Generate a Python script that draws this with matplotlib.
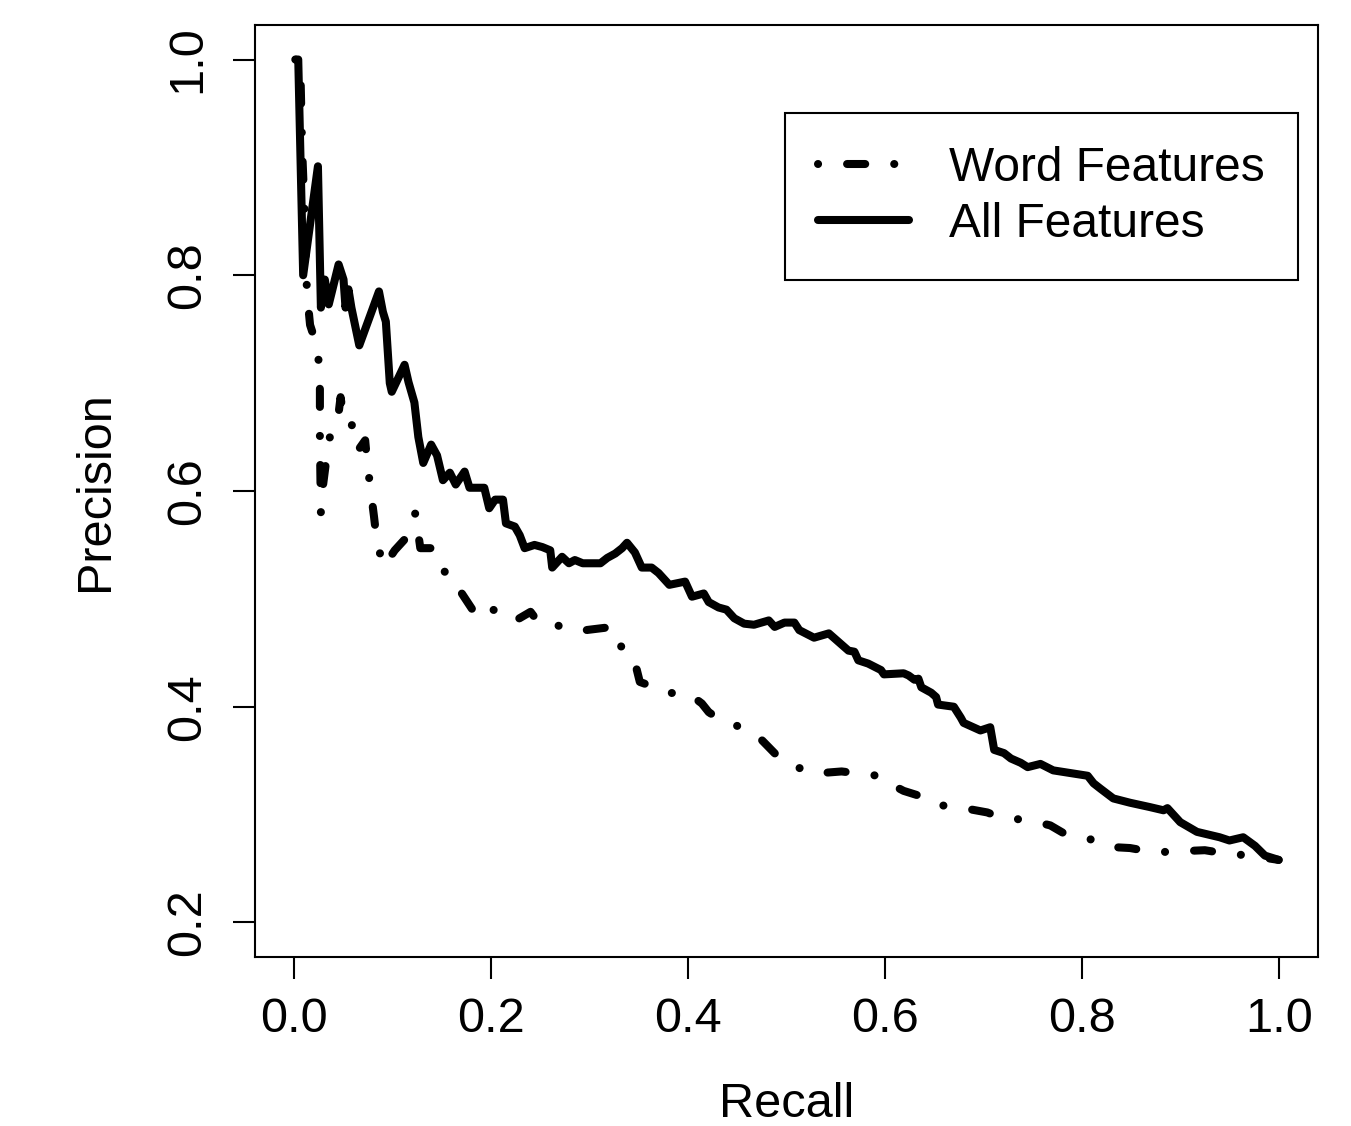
import numpy as np
import matplotlib
matplotlib.use('Agg')
import matplotlib.pyplot as plt

plt.rcParams['font.family'] = ['Liberation Sans', 'DejaVu Sans']

# 全特征 (All Features) 的 recall / precision
all_recall = [0.002, 0.004, 0.009, 0.024, 0.027, 0.031, 0.035, 0.045, 0.050, 0.052,
              0.055, 0.058, 0.066, 0.086, 0.090, 0.093, 0.097, 0.099, 0.112, 0.116,
              0.122, 0.126, 0.131, 0.139, 0.145, 0.151, 0.158, 0.164, 0.173, 0.178,
              0.193, 0.198, 0.204, 0.212, 0.215, 0.224, 0.229, 0.234, 0.244, 0.252,
              0.260, 0.262, 0.272, 0.279, 0.285, 0.293, 0.311, 0.318, 0.326, 0.333,
              0.338, 0.346, 0.353, 0.363, 0.370, 0.381, 0.397, 0.404, 0.416, 0.421,
              0.431, 0.439, 0.447, 0.457, 0.467, 0.482, 0.488, 0.498, 0.508, 0.513,
              0.528, 0.543, 0.553, 0.563, 0.569, 0.573, 0.583, 0.596, 0.599, 0.619,
              0.624, 0.630, 0.634, 0.637, 0.647, 0.652, 0.654, 0.670, 0.677, 0.680,
              0.697, 0.707, 0.711, 0.721, 0.728, 0.738, 0.745, 0.758, 0.771, 0.785,
              0.806, 0.812, 0.819, 0.832, 0.849, 0.869, 0.883, 0.887, 0.900, 0.917,
              0.940, 0.950, 0.964, 0.976, 0.986, 1.000]
all_prec = [1.000, 1.000, 0.800, 0.901, 0.770, 0.796, 0.773, 0.810, 0.796, 0.770,
            0.787, 0.770, 0.735, 0.785, 0.766, 0.757, 0.700, 0.692, 0.717, 0.701,
            0.682, 0.650, 0.626, 0.643, 0.633, 0.610, 0.617, 0.606, 0.618, 0.603,
            0.603, 0.584, 0.592, 0.592, 0.570, 0.567, 0.559, 0.547, 0.550, 0.548,
            0.545, 0.529, 0.539, 0.533, 0.536, 0.533, 0.533, 0.538, 0.542, 0.547,
            0.552, 0.543, 0.529, 0.529, 0.524, 0.513, 0.516, 0.502, 0.505, 0.497,
            0.492, 0.490, 0.482, 0.477, 0.476, 0.480, 0.474, 0.478, 0.478, 0.471,
            0.464, 0.468, 0.460, 0.452, 0.451, 0.443, 0.440, 0.434, 0.430, 0.431,
            0.429, 0.425, 0.426, 0.418, 0.413, 0.409, 0.402, 0.400, 0.390, 0.385,
            0.378, 0.381, 0.360, 0.357, 0.352, 0.348, 0.344, 0.347, 0.341, 0.339,
            0.336, 0.329, 0.324, 0.315, 0.311, 0.307, 0.304, 0.306, 0.293, 0.284,
            0.279, 0.276, 0.279, 0.271, 0.262, 0.258]

# 词特征 (Word Features)
word_recall = [0.001, 0.006, 0.008, 0.010, 0.012, 0.014, 0.016, 0.022, 0.025, 0.026,
               0.026, 0.027, 0.029, 0.035, 0.045, 0.047, 0.050, 0.058, 0.060, 0.065,
               0.072, 0.074, 0.077, 0.081, 0.084, 0.088, 0.091, 0.102, 0.113, 0.120,
               0.123, 0.128, 0.140, 0.148, 0.156, 0.168, 0.181, 0.198, 0.201, 0.212,
               0.225, 0.240, 0.249, 0.269, 0.290, 0.296, 0.323, 0.333, 0.345, 0.351,
               0.366, 0.377, 0.401, 0.414, 0.421, 0.434, 0.454, 0.475, 0.490, 0.505,
               0.528, 0.556, 0.593, 0.598, 0.619, 0.640, 0.654, 0.680, 0.704, 0.718,
               0.745, 0.768, 0.783, 0.809, 0.829, 0.849, 0.874, 0.925, 0.945, 0.971,
               1.000]
word_prec = [1.000, 0.998, 0.916, 0.870, 0.799, 0.773, 0.754, 0.737, 0.719, 0.694,
             0.647, 0.580, 0.604, 0.647, 0.672, 0.687, 0.668, 0.666, 0.645, 0.638,
             0.647, 0.627, 0.605, 0.576, 0.552, 0.539, 0.530, 0.545, 0.556, 0.567,
             0.580, 0.547, 0.547, 0.539, 0.516, 0.508, 0.490, 0.497, 0.490, 0.488,
             0.480, 0.488, 0.477, 0.475, 0.474, 0.471, 0.474, 0.454, 0.445, 0.423,
             0.418, 0.413, 0.412, 0.403, 0.395, 0.387, 0.381, 0.369, 0.355, 0.346,
             0.338, 0.340, 0.336, 0.332, 0.322, 0.316, 0.309, 0.306, 0.302, 0.297,
             0.295, 0.290, 0.282, 0.277, 0.270, 0.269, 0.265, 0.267, 0.264, 0.262,
             0.258]

xticks = [0.0, 0.2, 0.4, 0.6, 0.8, 1.0]
yticks = [0.2, 0.4, 0.6, 0.8, 1.0]

fig = plt.figure(figsize=(13.51, 11.26), dpi=100)
ax = fig.add_axes([0.1887, 0.1501, 0.7869, 0.8277])

lw = 5.8
# dot-dash 线型
ax.plot(word_recall, word_prec, color='black', lw=lw, dashes=(0.01, 3.6, 2.25, 3.6),
        dash_capstyle='round', solid_capstyle='round', solid_joinstyle='round',
        label='Word Features')
ax.plot(all_recall, all_prec, color='black', lw=lw, solid_capstyle='round',
        solid_joinstyle='round', label='All Features')

ax.set_xlim(-0.04, 1.04)
ax.set_ylim(0.168, 1.032)
ax.set_xticks(xticks)
ax.set_yticks(yticks)
ax.set_xticklabels(['%.1f' % t for t in xticks])
ax.set_yticklabels(['%.1f' % t for t in yticks], rotation=90, va='center')

for s in ax.spines.values():
    s.set_linewidth(1.5)
ax.tick_params(axis='both', length=15.5, width=1.5, labelsize=35)
ax.tick_params(axis='x', pad=13)
ax.tick_params(axis='y', pad=17)

ax.set_xlabel('Recall', fontsize=35)
ax.set_ylabel('Precision', fontsize=35)
ax.xaxis.set_label_coords(0.5, -0.134)
ax.yaxis.set_label_coords(-0.129, 0.5)

leg = ax.legend(loc='upper left', bbox_to_anchor=(0.4986, 0.9056), fontsize=34.5,
                handlelength=1.9, handletextpad=0.85, borderpad=0.68,
                labelspacing=0.24, borderaxespad=0, fancybox=False, framealpha=1)
leg.get_frame().set_edgecolor('black')
leg.get_frame().set_linewidth(1.5)

fig.savefig('out.png', dpi=100)
